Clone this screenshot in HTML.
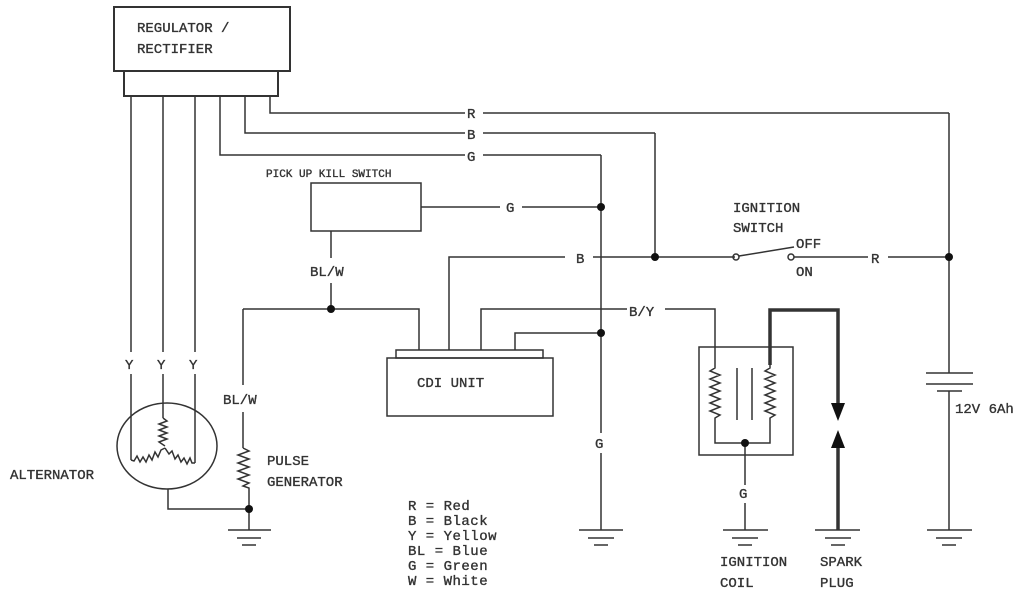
<!DOCTYPE html>
<html><head><meta charset="utf-8"><style>
html,body{margin:0;padding:0;background:#fff;width:1024px;height:600px;overflow:hidden}
svg text{font-family:"Liberation Mono",monospace;fill:#333;stroke:#333;stroke-width:0.35}
</style></head><body>
<svg width="1024" height="600" viewBox="0 0 1024 600" xmlns="http://www.w3.org/2000/svg">
<g fill="none" stroke="#333" stroke-width="1.5">
<rect x="114" y="7" width="176" height="64" stroke-width="2"/>
<rect x="124" y="71" width="154" height="25" stroke-width="2"/>
<line x1="131" y1="96" x2="131" y2="352"/><line x1="131" y1="374" x2="131" y2="460"/>
<line x1="163" y1="96" x2="163" y2="352"/><line x1="163" y1="374" x2="163" y2="418"/>
<line x1="195" y1="96" x2="195" y2="352"/><line x1="195" y1="374" x2="195" y2="463"/>
<polyline points="270,96 270,113 465,113"/><line x1="483" y1="113" x2="949" y2="113"/>
<polyline points="245,96 245,133 465,133"/><line x1="483" y1="133" x2="655" y2="133"/><line x1="655" y1="133" x2="655" y2="257"/>
<polyline points="220,96 220,155 465,155"/><line x1="483" y1="155" x2="601" y2="155"/>
<line x1="601" y1="155" x2="601" y2="433"/><line x1="601" y1="453" x2="601" y2="530"/>
<ellipse cx="167" cy="446" rx="50" ry="43"/>
<polyline points="163,418 167,421 159,424 167,427 159,430 167,433 159,436 167,439 159,442 165,446"/>
<polyline points="131,460 134,461 137,456 140,462 143,457 146,462 149,455 152,460 155,452 158,457 161,450 165,448"/>
<polyline points="195,463 192,463 190,458 187,464 184,458 181,462 178,455 175,459 172,451 169,454 165,448"/>
<polyline points="168,489 168,509 249,509"/>
<polyline points="243,309 419,309 419,350"/>
<line x1="243" y1="309" x2="243" y2="385"/>
<line x1="243" y1="412" x2="243" y2="448"/>
<polyline points="243,448 249,451 238,455 249,459 238,463 249,467 238,471 249,475 238,479 249,483 243,486 249,488 249,530"/>
<rect x="311" y="183" width="110" height="48"/>
<line x1="421" y1="207" x2="500" y2="207"/><line x1="522" y1="207" x2="601" y2="207"/>
<line x1="331" y1="231" x2="331" y2="258"/><line x1="331" y1="283" x2="331" y2="309"/>
<rect x="396" y="350" width="147" height="8"/>
<rect x="387" y="358" width="166" height="58"/>
<polyline points="449,350 449,257 565,257"/>
<line x1="593" y1="257" x2="735" y2="257"/>
<polyline points="481,350 481,309 627,309"/>
<polyline points="665,309 715,309 715,365"/>
<polyline points="515,350 515,333 601,333"/>
<circle cx="736" cy="257" r="3"/><circle cx="791" cy="257" r="3"/>
<line x1="739" y1="256" x2="794" y2="247"/>
<line x1="794" y1="257" x2="868" y2="257"/><line x1="888" y1="257" x2="949" y2="257"/>
<line x1="949" y1="113" x2="949" y2="373"/>
<line x1="926" y1="373" x2="973" y2="373"/>
<line x1="926" y1="384" x2="973" y2="384"/>
<line x1="937" y1="391" x2="962" y2="391"/>
<line x1="949" y1="391" x2="949" y2="530"/>
<rect x="699" y="347" width="94" height="108"/>
<polyline points="715,365 715,368 710,371 720,375 710,379 720,383 710,387 720,391 710,395 720,399 710,403 720,407 710,411 720,415 715,418 715,443 770,443 770,418 775,415 765,411 775,407 765,403 775,399 765,395 775,391 765,387 775,383 765,379 775,375 765,371 770,368 770,365"/>
<line x1="737" y1="368" x2="737" y2="420"/><line x1="752" y1="368" x2="752" y2="420"/>
<line x1="745" y1="443" x2="745" y2="485"/><line x1="745" y1="503" x2="745" y2="530"/>
<polyline points="770,365 770,310 838,310 838,405" stroke-width="3.5"/>
<line x1="838" y1="447" x2="838" y2="530" stroke-width="3.5"/>
<g>
<line x1="228" y1="530" x2="271" y2="530"/><line x1="237" y1="538" x2="261" y2="538"/><line x1="242" y1="545" x2="256" y2="545"/>
<line x1="579" y1="530" x2="623" y2="530"/><line x1="588" y1="538" x2="614" y2="538"/><line x1="594" y1="545" x2="608" y2="545"/>
<line x1="723" y1="530" x2="768" y2="530"/><line x1="732" y1="538" x2="758" y2="538"/><line x1="738" y1="545" x2="752" y2="545"/>
<line x1="815" y1="530" x2="860" y2="530"/><line x1="825" y1="538" x2="851" y2="538"/><line x1="831" y1="545" x2="845" y2="545"/>
<line x1="927" y1="530" x2="972" y2="530"/><line x1="936" y1="538" x2="962" y2="538"/><line x1="942" y1="545" x2="956" y2="545"/>
</g>
</g>
<g fill="#111">
<polygon points="831,403 845,403 838,421"/>
<polygon points="831,448 845,448 838,430"/>
<circle cx="249" cy="509" r="4"/><circle cx="331" cy="309" r="4"/><circle cx="601" cy="207" r="4"/>
<circle cx="601" cy="333" r="4"/><circle cx="655" cy="257" r="4"/><circle cx="949" cy="257" r="4"/>
<circle cx="745" cy="443" r="4"/>
</g>
<g font-size="14">
<text x="137" y="32">REGULATOR /</text>
<text x="137" y="53">RECTIFIER</text>
<text x="467" y="118">R</text><text x="467" y="139">B</text><text x="467" y="161">G</text>
<text x="266" y="177" font-size="11">PICK UP KILL SWITCH</text>
<text x="506" y="212">G</text>
<text x="310" y="276">BL/W</text>
<text x="576" y="263">B</text>
<text x="629" y="316">B/Y</text>
<text x="125" y="369">Y</text><text x="157" y="369">Y</text><text x="189" y="369">Y</text>
<text x="223" y="404">BL/W</text>
<text x="417" y="387">CDI UNIT</text>
<text x="595" y="448">G</text>
<text x="10" y="479">ALTERNATOR</text>
<text x="267" y="465">PULSE</text>
<text x="267" y="486">GENERATOR</text>
<text x="733" y="212">IGNITION</text>
<text x="733" y="232">SWITCH</text>
<text x="796" y="248">OFF</text>
<text x="796" y="276">ON</text>
<text x="871" y="263">R</text>
<text x="955" y="413">12V 6Ah</text>
<text x="739" y="498">G</text>
<text x="720" y="566">IGNITION</text><text x="720" y="587">COIL</text>
<text x="820" y="566">SPARK</text><text x="820" y="587">PLUG</text>
</g>
<g font-size="14" letter-spacing="0.5">
<text x="408" y="510">R  = Red</text>
<text x="408" y="525">B  = Black</text>
<text x="408" y="540">Y  = Yellow</text>
<text x="408" y="555">BL = Blue</text>
<text x="408" y="570">G  = Green</text>
<text x="408" y="585">W  = White</text>
</g>
</svg>
</body></html>
